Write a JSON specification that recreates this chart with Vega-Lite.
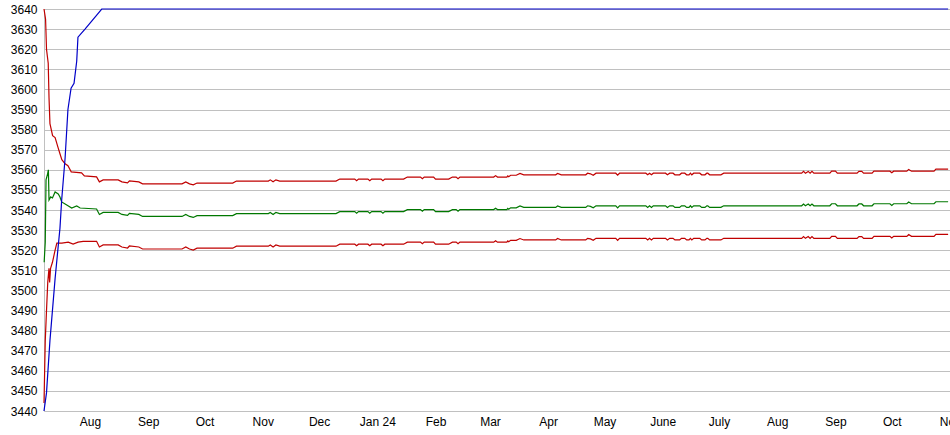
{
  "$schema": "https://vega.github.io/schema/vega-lite/v6.json",
  "width": 906,
  "height": 402,
  "autosize": {"type": "none"},
  "padding": {"left": 44, "top": 9, "right": 0, "bottom": 24},
  "background": "#ffffff",
  "config": {
    "view": {"stroke": null},
    "axis": {"labelFont": "Liberation Sans", "labelFontSize": 12, "labelColor": "#000000", "ticks": false, "tickSize": 0, "domainColor": "#c0c0c0", "gridColor": "#c0c0c0", "gridWidth": 1, "title": null}
  },
  "datasets": {
    "upper": [
      {"d": "2023-07-07T12:00", "v": 3640}, {"d": "2023-07-08T08:00", "v": 3635}, {"d": "2023-07-08T20:00", "v": 3620},
      {"d": "2023-07-09T18:00", "v": 3613}, {"d": "2023-07-10T04:00", "v": 3596}, {"d": "2023-07-10T16:00", "v": 3583},
      {"d": "2023-07-12T02:00", "v": 3577}, {"d": "2023-07-13T10:00", "v": 3576}, {"d": "2023-07-15T00:00", "v": 3571},
      {"d": "2023-07-16T00:00", "v": 3568}, {"d": "2023-07-17T00:00", "v": 3565}, {"d": "2023-07-18T18:00", "v": 3563},
      {"d": "2023-07-20T06:00", "v": 3562}, {"d": "2023-07-22T00:00", "v": 3559}, {"d": "2023-07-27T12:00", "v": 3558.5},
      {"d": "2023-07-29T00:00", "v": 3557}, {"d": "2023-08-04T12:00", "v": 3556.5},
      {"d": "2023-08-06T00:00", "v": 3554}, {"d": "2023-08-08T00:00", "v": 3555}, {"d": "2023-08-16T00:00", "v": 3555},
      {"d": "2023-08-18T00:00", "v": 3554}, {"d": "2023-08-21T00:00", "v": 3553.5}, {"d": "2023-08-22T00:00", "v": 3554.5},
      {"d": "2023-08-27T00:00", "v": 3554}, {"d": "2023-08-29T00:00", "v": 3553}, {"d": "2023-09-19T00:00", "v": 3553},
      {"d": "2023-09-21T00:00", "v": 3554}, {"d": "2023-09-23T00:00", "v": 3553}, {"d": "2023-09-25T00:00", "v": 3552.5},
      {"d": "2023-09-27T00:00", "v": 3553.4}, {"d": "2023-10-16T00:00", "v": 3553.4}, {"d": "2023-10-18T00:00", "v": 3554.4},
      {"d": "2023-11-04T00:00", "v": 3554.4}, {"d": "2023-11-05T00:00", "v": 3555}, {"d": "2023-11-06T12:00", "v": 3554},
      {"d": "2023-11-08T00:00", "v": 3555}, {"d": "2023-11-10T00:00", "v": 3554.4}, {"d": "2023-12-10T00:00", "v": 3554.4},
      {"d": "2023-12-12T00:00", "v": 3555.4}, {"d": "2023-12-20T00:00", "v": 3555.4}, {"d": "2023-12-21T00:00", "v": 3554.6},
      {"d": "2023-12-22T00:00", "v": 3555.4}, {"d": "2023-12-27T00:00", "v": 3555.4}, {"d": "2023-12-28T00:00", "v": 3554.6},
      {"d": "2023-12-29T00:00", "v": 3555.4}, {"d": "2024-01-03T00:00", "v": 3555.4}, {"d": "2024-01-04T00:00", "v": 3554.6},
      {"d": "2024-01-05T00:00", "v": 3555.4}, {"d": "2024-01-15T00:00", "v": 3555.4}, {"d": "2024-01-17T00:00", "v": 3556.4},
      {"d": "2024-01-24T00:00", "v": 3556.4}, {"d": "2024-01-25T00:00", "v": 3555.6}, {"d": "2024-01-26T00:00", "v": 3556.4},
      {"d": "2024-01-31T00:00", "v": 3556.4}, {"d": "2024-02-01T00:00", "v": 3555.4}, {"d": "2024-02-08T00:00", "v": 3555.4},
      {"d": "2024-02-10T00:00", "v": 3556.4}, {"d": "2024-02-12T00:00", "v": 3556.4}, {"d": "2024-02-13T00:00", "v": 3555.6},
      {"d": "2024-02-14T00:00", "v": 3556.4}, {"d": "2024-03-03T00:00", "v": 3556.4}, {"d": "2024-03-04T00:00", "v": 3557.1},
      {"d": "2024-03-05T00:00", "v": 3556.4}, {"d": "2024-03-10T00:00", "v": 3556.4}, {"d": "2024-03-10T12:00", "v": 3557},
      {"d": "2024-03-11T00:00", "v": 3556.6}, {"d": "2024-03-12T00:00", "v": 3557.3}, {"d": "2024-03-15T00:00", "v": 3557.3},
      {"d": "2024-03-17T00:00", "v": 3558.2}, {"d": "2024-03-19T00:00", "v": 3557.5}, {"d": "2024-04-05T00:00", "v": 3557.5},
      {"d": "2024-04-06T00:00", "v": 3558.2}, {"d": "2024-04-08T00:00", "v": 3557.5}, {"d": "2024-04-21T00:00", "v": 3557.5},
      {"d": "2024-04-22T00:00", "v": 3558.3}, {"d": "2024-04-23T12:00", "v": 3558}, {"d": "2024-04-25T00:00", "v": 3557.3},
      {"d": "2024-04-26T12:00", "v": 3558.3}, {"d": "2024-05-07T00:00", "v": 3558.3}, {"d": "2024-05-08T00:00", "v": 3557.3},
      {"d": "2024-05-09T00:00", "v": 3558.3}, {"d": "2024-05-23T00:00", "v": 3558.3}, {"d": "2024-05-24T00:00", "v": 3557.5},
      {"d": "2024-05-25T00:00", "v": 3558.3}, {"d": "2024-05-26T00:00", "v": 3557.5}, {"d": "2024-05-27T00:00", "v": 3558.3},
      {"d": "2024-06-02T12:00", "v": 3558.3}, {"d": "2024-06-03T12:00", "v": 3557.5}, {"d": "2024-06-04T18:00", "v": 3558.3},
      {"d": "2024-06-06T12:00", "v": 3558.3}, {"d": "2024-06-07T12:00", "v": 3557.5}, {"d": "2024-06-10T00:00", "v": 3557.5},
      {"d": "2024-06-11T00:00", "v": 3558.3}, {"d": "2024-06-12T18:00", "v": 3558.3}, {"d": "2024-06-13T18:00", "v": 3557.5},
      {"d": "2024-06-15T00:00", "v": 3557.5}, {"d": "2024-06-15T18:00", "v": 3558.3}, {"d": "2024-06-16T12:00", "v": 3557.5},
      {"d": "2024-06-17T12:00", "v": 3558.3}, {"d": "2024-06-20T18:00", "v": 3558.3}, {"d": "2024-06-21T18:00", "v": 3557.5},
      {"d": "2024-06-23T12:00", "v": 3557.5}, {"d": "2024-06-24T12:00", "v": 3558.3}, {"d": "2024-06-25T00:00", "v": 3558.3},
      {"d": "2024-06-26T00:00", "v": 3557.5}, {"d": "2024-07-02T00:00", "v": 3557.5}, {"d": "2024-07-03T12:00", "v": 3558.3},
      {"d": "2024-08-14T00:00", "v": 3558.3}, {"d": "2024-08-15T00:00", "v": 3559.2}, {"d": "2024-08-16T00:00", "v": 3558.3},
      {"d": "2024-08-17T12:00", "v": 3559.2}, {"d": "2024-08-18T12:00", "v": 3558.3}, {"d": "2024-08-19T12:00", "v": 3559.2},
      {"d": "2024-08-20T12:00", "v": 3558.3}, {"d": "2024-08-29T00:00", "v": 3558.3}, {"d": "2024-08-30T00:00", "v": 3559.3},
      {"d": "2024-09-01T00:00", "v": 3559.3}, {"d": "2024-09-02T00:00", "v": 3558.3}, {"d": "2024-09-12T12:00", "v": 3558.3},
      {"d": "2024-09-13T12:00", "v": 3559.2}, {"d": "2024-09-15T00:00", "v": 3559.2}, {"d": "2024-09-16T00:00", "v": 3558.3},
      {"d": "2024-09-20T12:00", "v": 3558.3}, {"d": "2024-09-21T12:00", "v": 3559.3}, {"d": "2024-09-30T00:00", "v": 3559.3},
      {"d": "2024-10-01T00:00", "v": 3558.5}, {"d": "2024-10-02T00:00", "v": 3559.3}, {"d": "2024-10-09T00:00", "v": 3559.3},
      {"d": "2024-10-10T00:00", "v": 3560.2}, {"d": "2024-10-11T12:00", "v": 3559.3}, {"d": "2024-10-23T12:00", "v": 3559.3},
      {"d": "2024-10-24T12:00", "v": 3560.3}, {"d": "2024-10-31T00:00", "v": 3560.3}
    ],
    "middle": [
      {"d": "2023-07-07T14:00", "v": 3514}, {"d": "2023-07-08T04:00", "v": 3524}, {"d": "2023-07-08T14:00", "v": 3555},
      {"d": "2023-07-09T10:00", "v": 3558}, {"d": "2023-07-09T20:00", "v": 3560}, {"d": "2023-07-10T04:00", "v": 3545},
      {"d": "2023-07-11T02:00", "v": 3546.5}, {"d": "2023-07-12T00:00", "v": 3546}, {"d": "2023-07-13T10:00", "v": 3549},
      {"d": "2023-07-15T02:00", "v": 3548}, {"d": "2023-07-16T00:00", "v": 3546.5}, {"d": "2023-07-16T22:00", "v": 3544},
      {"d": "2023-07-18T18:00", "v": 3543}, {"d": "2023-07-22T06:00", "v": 3541}, {"d": "2023-07-24T22:00", "v": 3542},
      {"d": "2023-07-26T18:00", "v": 3541}, {"d": "2023-08-04T12:00", "v": 3540.5},
      {"d": "2023-08-06T00:00", "v": 3537.8}, {"d": "2023-08-08T00:00", "v": 3538.8}, {"d": "2023-08-16T00:00", "v": 3538.8},
      {"d": "2023-08-18T00:00", "v": 3537.8}, {"d": "2023-08-21T00:00", "v": 3537.3}, {"d": "2023-08-22T00:00", "v": 3538.3},
      {"d": "2023-08-27T00:00", "v": 3537.8}, {"d": "2023-08-29T00:00", "v": 3536.8}, {"d": "2023-09-19T00:00", "v": 3536.8},
      {"d": "2023-09-21T00:00", "v": 3537.8}, {"d": "2023-09-23T00:00", "v": 3536.8}, {"d": "2023-09-25T00:00", "v": 3536.3},
      {"d": "2023-09-27T00:00", "v": 3537.2}, {"d": "2023-10-16T00:00", "v": 3537.2}, {"d": "2023-10-18T00:00", "v": 3538.2},
      {"d": "2023-11-04T00:00", "v": 3538.2}, {"d": "2023-11-05T00:00", "v": 3538.8}, {"d": "2023-11-06T12:00", "v": 3537.8},
      {"d": "2023-11-08T00:00", "v": 3538.8}, {"d": "2023-11-10T00:00", "v": 3538.2}, {"d": "2023-12-10T00:00", "v": 3538.2},
      {"d": "2023-12-12T00:00", "v": 3539.2}, {"d": "2023-12-20T00:00", "v": 3539.2}, {"d": "2023-12-21T00:00", "v": 3538.4},
      {"d": "2023-12-22T00:00", "v": 3539.2}, {"d": "2023-12-27T00:00", "v": 3539.2}, {"d": "2023-12-28T00:00", "v": 3538.4},
      {"d": "2023-12-29T00:00", "v": 3539.2}, {"d": "2024-01-03T00:00", "v": 3539.2}, {"d": "2024-01-04T00:00", "v": 3538.4},
      {"d": "2024-01-05T00:00", "v": 3539.2}, {"d": "2024-01-15T00:00", "v": 3539.2}, {"d": "2024-01-17T00:00", "v": 3540.2},
      {"d": "2024-01-24T00:00", "v": 3540.2}, {"d": "2024-01-25T00:00", "v": 3539.4}, {"d": "2024-01-26T00:00", "v": 3540.2},
      {"d": "2024-01-31T00:00", "v": 3540.2}, {"d": "2024-02-01T00:00", "v": 3539.2}, {"d": "2024-02-08T00:00", "v": 3539.2},
      {"d": "2024-02-10T00:00", "v": 3540.2}, {"d": "2024-02-12T00:00", "v": 3540.2}, {"d": "2024-02-13T00:00", "v": 3539.4},
      {"d": "2024-02-14T00:00", "v": 3540.2}, {"d": "2024-03-03T00:00", "v": 3540.2}, {"d": "2024-03-04T00:00", "v": 3540.9},
      {"d": "2024-03-05T00:00", "v": 3540.2}, {"d": "2024-03-10T00:00", "v": 3540.2}, {"d": "2024-03-10T12:00", "v": 3540.8},
      {"d": "2024-03-11T00:00", "v": 3540.4}, {"d": "2024-03-12T00:00", "v": 3541.1}, {"d": "2024-03-15T00:00", "v": 3541.1},
      {"d": "2024-03-17T00:00", "v": 3542.0}, {"d": "2024-03-19T00:00", "v": 3541.3}, {"d": "2024-04-05T00:00", "v": 3541.3},
      {"d": "2024-04-06T00:00", "v": 3542.0}, {"d": "2024-04-08T00:00", "v": 3541.3}, {"d": "2024-04-21T00:00", "v": 3541.3},
      {"d": "2024-04-22T00:00", "v": 3542.1}, {"d": "2024-04-23T12:00", "v": 3541.8}, {"d": "2024-04-25T00:00", "v": 3541.1},
      {"d": "2024-04-26T12:00", "v": 3542.1}, {"d": "2024-05-07T00:00", "v": 3542.1}, {"d": "2024-05-08T00:00", "v": 3541.1},
      {"d": "2024-05-09T00:00", "v": 3542.1}, {"d": "2024-05-23T00:00", "v": 3542.1}, {"d": "2024-05-24T00:00", "v": 3541.3},
      {"d": "2024-05-25T00:00", "v": 3542.1}, {"d": "2024-05-26T00:00", "v": 3541.3}, {"d": "2024-05-27T00:00", "v": 3542.1},
      {"d": "2024-06-02T12:00", "v": 3542.1}, {"d": "2024-06-03T12:00", "v": 3541.3}, {"d": "2024-06-04T18:00", "v": 3542.1},
      {"d": "2024-06-06T12:00", "v": 3542.1}, {"d": "2024-06-07T12:00", "v": 3541.3}, {"d": "2024-06-10T00:00", "v": 3541.3},
      {"d": "2024-06-11T00:00", "v": 3542.1}, {"d": "2024-06-12T18:00", "v": 3542.1}, {"d": "2024-06-13T18:00", "v": 3541.3},
      {"d": "2024-06-15T00:00", "v": 3541.3}, {"d": "2024-06-15T18:00", "v": 3542.1}, {"d": "2024-06-16T12:00", "v": 3541.3},
      {"d": "2024-06-17T12:00", "v": 3542.1}, {"d": "2024-06-20T18:00", "v": 3542.1}, {"d": "2024-06-21T18:00", "v": 3541.3},
      {"d": "2024-06-23T12:00", "v": 3541.3}, {"d": "2024-06-24T12:00", "v": 3542.1}, {"d": "2024-06-25T00:00", "v": 3542.1},
      {"d": "2024-06-26T00:00", "v": 3541.3}, {"d": "2024-07-02T00:00", "v": 3541.3}, {"d": "2024-07-03T12:00", "v": 3542.1},
      {"d": "2024-08-14T00:00", "v": 3542.1}, {"d": "2024-08-15T00:00", "v": 3543.0}, {"d": "2024-08-16T00:00", "v": 3542.1},
      {"d": "2024-08-17T12:00", "v": 3543.0}, {"d": "2024-08-18T12:00", "v": 3542.1}, {"d": "2024-08-19T12:00", "v": 3543.0},
      {"d": "2024-08-20T12:00", "v": 3542.1}, {"d": "2024-08-29T00:00", "v": 3542.1}, {"d": "2024-08-30T00:00", "v": 3543.1},
      {"d": "2024-09-01T00:00", "v": 3543.1}, {"d": "2024-09-02T00:00", "v": 3542.1}, {"d": "2024-09-12T12:00", "v": 3542.1},
      {"d": "2024-09-13T12:00", "v": 3543.0}, {"d": "2024-09-15T00:00", "v": 3543.0}, {"d": "2024-09-16T00:00", "v": 3542.1},
      {"d": "2024-09-20T12:00", "v": 3542.1}, {"d": "2024-09-21T12:00", "v": 3543.1}, {"d": "2024-09-30T00:00", "v": 3543.1},
      {"d": "2024-10-01T00:00", "v": 3542.3}, {"d": "2024-10-02T00:00", "v": 3543.1}, {"d": "2024-10-09T00:00", "v": 3543.1},
      {"d": "2024-10-10T00:00", "v": 3544.0}, {"d": "2024-10-11T12:00", "v": 3543.1}, {"d": "2024-10-23T12:00", "v": 3543.1},
      {"d": "2024-10-24T12:00", "v": 3544.1}, {"d": "2024-10-31T00:00", "v": 3544.1}
    ],
    "lower": [
      {"d": "2023-07-07T12:00", "v": 3444}, {"d": "2023-07-08T04:00", "v": 3475}, {"d": "2023-07-08T20:00", "v": 3490},
      {"d": "2023-07-09T12:00", "v": 3504}, {"d": "2023-07-10T04:00", "v": 3511}, {"d": "2023-07-10T12:00", "v": 3504},
      {"d": "2023-07-11T00:00", "v": 3511}, {"d": "2023-07-12T00:00", "v": 3514}, {"d": "2023-07-13T10:00", "v": 3520},
      {"d": "2023-07-14T08:00", "v": 3523.5}, {"d": "2023-07-17T00:00", "v": 3523.5}, {"d": "2023-07-20T10:00", "v": 3524},
      {"d": "2023-07-23T00:00", "v": 3523}, {"d": "2023-07-25T16:00", "v": 3524}, {"d": "2023-07-28T08:00", "v": 3524.4},
      {"d": "2023-08-04T12:00", "v": 3524.4},
      {"d": "2023-08-06T00:00", "v": 3521.6}, {"d": "2023-08-08T00:00", "v": 3522.6}, {"d": "2023-08-16T00:00", "v": 3522.6},
      {"d": "2023-08-18T00:00", "v": 3521.6}, {"d": "2023-08-21T00:00", "v": 3521.1}, {"d": "2023-08-22T00:00", "v": 3522.1},
      {"d": "2023-08-27T00:00", "v": 3521.6}, {"d": "2023-08-29T00:00", "v": 3520.6}, {"d": "2023-09-19T00:00", "v": 3520.6},
      {"d": "2023-09-21T00:00", "v": 3521.6}, {"d": "2023-09-23T00:00", "v": 3520.6}, {"d": "2023-09-25T00:00", "v": 3520.1},
      {"d": "2023-09-27T00:00", "v": 3521.0}, {"d": "2023-10-16T00:00", "v": 3521.0}, {"d": "2023-10-18T00:00", "v": 3522.0},
      {"d": "2023-11-04T00:00", "v": 3522.0}, {"d": "2023-11-05T00:00", "v": 3522.6}, {"d": "2023-11-06T12:00", "v": 3521.6},
      {"d": "2023-11-08T00:00", "v": 3522.6}, {"d": "2023-11-10T00:00", "v": 3522.0}, {"d": "2023-12-10T00:00", "v": 3522.0},
      {"d": "2023-12-12T00:00", "v": 3523.0}, {"d": "2023-12-20T00:00", "v": 3523.0}, {"d": "2023-12-21T00:00", "v": 3522.2},
      {"d": "2023-12-22T00:00", "v": 3523.0}, {"d": "2023-12-27T00:00", "v": 3523.0}, {"d": "2023-12-28T00:00", "v": 3522.2},
      {"d": "2023-12-29T00:00", "v": 3523.0}, {"d": "2024-01-03T00:00", "v": 3523.0}, {"d": "2024-01-04T00:00", "v": 3522.2},
      {"d": "2024-01-05T00:00", "v": 3523.0}, {"d": "2024-01-15T00:00", "v": 3523.0}, {"d": "2024-01-17T00:00", "v": 3524.0},
      {"d": "2024-01-24T00:00", "v": 3524.0}, {"d": "2024-01-25T00:00", "v": 3523.2}, {"d": "2024-01-26T00:00", "v": 3524.0},
      {"d": "2024-01-31T00:00", "v": 3524.0}, {"d": "2024-02-01T00:00", "v": 3523.0}, {"d": "2024-02-08T00:00", "v": 3523.0},
      {"d": "2024-02-10T00:00", "v": 3524.0}, {"d": "2024-02-12T00:00", "v": 3524.0}, {"d": "2024-02-13T00:00", "v": 3523.2},
      {"d": "2024-02-14T00:00", "v": 3524.0}, {"d": "2024-03-03T00:00", "v": 3524.0}, {"d": "2024-03-04T00:00", "v": 3524.7},
      {"d": "2024-03-05T00:00", "v": 3524.0}, {"d": "2024-03-10T00:00", "v": 3524.0}, {"d": "2024-03-10T12:00", "v": 3524.6},
      {"d": "2024-03-11T00:00", "v": 3524.2}, {"d": "2024-03-12T00:00", "v": 3524.9}, {"d": "2024-03-15T00:00", "v": 3524.9},
      {"d": "2024-03-17T00:00", "v": 3525.8}, {"d": "2024-03-19T00:00", "v": 3525.1}, {"d": "2024-04-05T00:00", "v": 3525.1},
      {"d": "2024-04-06T00:00", "v": 3525.8}, {"d": "2024-04-08T00:00", "v": 3525.1}, {"d": "2024-04-21T00:00", "v": 3525.1},
      {"d": "2024-04-22T00:00", "v": 3525.9}, {"d": "2024-04-23T12:00", "v": 3525.6}, {"d": "2024-04-25T00:00", "v": 3524.9},
      {"d": "2024-04-26T12:00", "v": 3525.9}, {"d": "2024-05-07T00:00", "v": 3525.9}, {"d": "2024-05-08T00:00", "v": 3524.9},
      {"d": "2024-05-09T00:00", "v": 3525.9}, {"d": "2024-05-23T00:00", "v": 3525.9}, {"d": "2024-05-24T00:00", "v": 3525.1},
      {"d": "2024-05-25T00:00", "v": 3525.9}, {"d": "2024-05-26T00:00", "v": 3525.1}, {"d": "2024-05-27T00:00", "v": 3525.9},
      {"d": "2024-06-02T12:00", "v": 3525.9}, {"d": "2024-06-03T12:00", "v": 3525.1}, {"d": "2024-06-04T18:00", "v": 3525.9},
      {"d": "2024-06-06T12:00", "v": 3525.9}, {"d": "2024-06-07T12:00", "v": 3525.1}, {"d": "2024-06-10T00:00", "v": 3525.1},
      {"d": "2024-06-11T00:00", "v": 3525.9}, {"d": "2024-06-12T18:00", "v": 3525.9}, {"d": "2024-06-13T18:00", "v": 3525.1},
      {"d": "2024-06-15T00:00", "v": 3525.1}, {"d": "2024-06-15T18:00", "v": 3525.9}, {"d": "2024-06-16T12:00", "v": 3525.1},
      {"d": "2024-06-17T12:00", "v": 3525.9}, {"d": "2024-06-20T18:00", "v": 3525.9}, {"d": "2024-06-21T18:00", "v": 3525.1},
      {"d": "2024-06-23T12:00", "v": 3525.1}, {"d": "2024-06-24T12:00", "v": 3525.9}, {"d": "2024-06-25T00:00", "v": 3525.9},
      {"d": "2024-06-26T00:00", "v": 3525.1}, {"d": "2024-07-02T00:00", "v": 3525.1}, {"d": "2024-07-03T12:00", "v": 3525.9},
      {"d": "2024-08-14T00:00", "v": 3525.9}, {"d": "2024-08-15T00:00", "v": 3526.8}, {"d": "2024-08-16T00:00", "v": 3525.9},
      {"d": "2024-08-17T12:00", "v": 3526.8}, {"d": "2024-08-18T12:00", "v": 3525.9}, {"d": "2024-08-19T12:00", "v": 3526.8},
      {"d": "2024-08-20T12:00", "v": 3525.9}, {"d": "2024-08-29T00:00", "v": 3525.9}, {"d": "2024-08-30T00:00", "v": 3526.9},
      {"d": "2024-09-01T00:00", "v": 3526.9}, {"d": "2024-09-02T00:00", "v": 3525.9}, {"d": "2024-09-12T12:00", "v": 3525.9},
      {"d": "2024-09-13T12:00", "v": 3526.8}, {"d": "2024-09-15T00:00", "v": 3526.8}, {"d": "2024-09-16T00:00", "v": 3525.9},
      {"d": "2024-09-20T12:00", "v": 3525.9}, {"d": "2024-09-21T12:00", "v": 3526.9}, {"d": "2024-09-30T00:00", "v": 3526.9},
      {"d": "2024-10-01T00:00", "v": 3526.1}, {"d": "2024-10-02T00:00", "v": 3526.9}, {"d": "2024-10-09T00:00", "v": 3526.9},
      {"d": "2024-10-10T00:00", "v": 3527.8}, {"d": "2024-10-11T12:00", "v": 3526.9}, {"d": "2024-10-23T12:00", "v": 3526.9},
      {"d": "2024-10-24T12:00", "v": 3527.9}, {"d": "2024-10-31T00:00", "v": 3527.9}
    ],
    "total": [
      {"d": "2023-07-07T12:00", "v": 3440}, {"d": "2023-07-08T20:00", "v": 3449}, {"d": "2023-07-10T16:00", "v": 3475},
      {"d": "2023-07-13T10:00", "v": 3506}, {"d": "2023-07-16T00:00", "v": 3531}, {"d": "2023-07-16T22:00", "v": 3545},
      {"d": "2023-07-18T18:00", "v": 3566}, {"d": "2023-07-20T06:00", "v": 3590}, {"d": "2023-07-21T22:00", "v": 3600.6},
      {"d": "2023-07-23T12:00", "v": 3603}, {"d": "2023-07-24T22:00", "v": 3614}, {"d": "2023-07-25T14:00", "v": 3626},
      {"d": "2023-07-29T08:00", "v": 3630}, {"d": "2023-08-07T06:00", "v": 3640}, {"d": "2024-10-31T00:00", "v": 3640}
    ]
  },
  "encoding": {
    "x": {
      "field": "d", "type": "temporal",
      "scale": {"domain": [{"year": 2023, "month": 7, "date": 7, "hours": 12}, {"year": 2024, "month": 11, "date": 1}]},
      "axis": {
        "tickCount": {"interval": "month", "step": 1},
        "grid": false, "domain": true, "labelPadding": 5, "labelFlush": false, "labelOverlap": false, "labelBound": false,
        "labelExpr": "month(datum.value) == 0 ? 'Jan ' + timeFormat(datum.value, '%y') : month(datum.value) == 5 ? 'June' : month(datum.value) == 6 ? 'July' : timeFormat(datum.value, '%b')"
      }
    },
    "y": {
      "field": "v", "type": "quantitative",
      "scale": {"domain": [3440, 3640], "zero": false, "nice": false},
      "axis": {
        "values": [3440, 3450, 3460, 3470, 3480, 3490, 3500, 3510, 3520, 3530, 3540, 3550, 3560, 3570, 3580, 3590, 3600, 3610, 3620, 3630, 3640],
        "grid": true, "domain": true, "labelPadding": 7, "format": "d"
      }
    }
  },
  "layer": [
    {"data": {"name": "upper"}, "mark": {"type": "line", "color": "#c00000", "strokeWidth": 1.2}},
    {"data": {"name": "middle"}, "mark": {"type": "line", "color": "#007800", "strokeWidth": 1.2}},
    {"data": {"name": "lower"}, "mark": {"type": "line", "color": "#c00000", "strokeWidth": 1.2}},
    {"data": {"name": "total"}, "mark": {"type": "line", "color": "#0000c8", "strokeWidth": 1.2}}
  ]
}
